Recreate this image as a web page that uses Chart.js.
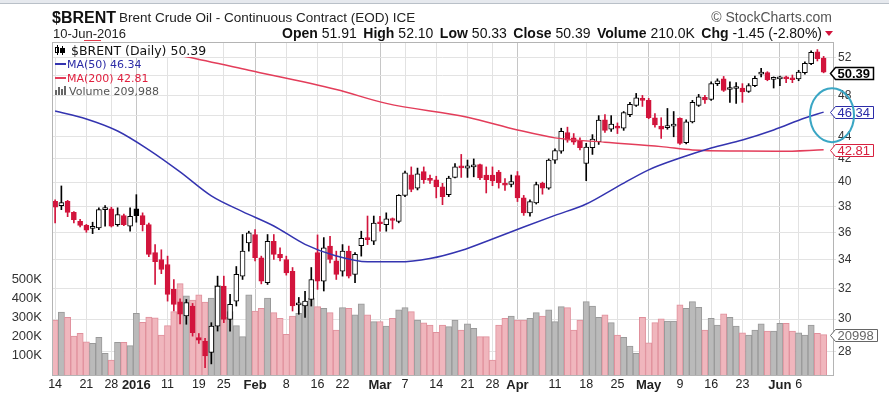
<!DOCTYPE html>
<html>
<head>
<meta charset="utf-8">
<title>$BRENT daily</title>
<script src="https://cdn.jsdelivr.net/npm/chart.js@4/dist/chart.umd.min.js"></script>
<style>
  html, body { margin: 0; padding: 0; background: #fff; }
  #wrap { width: 889px; height: 399px; }
</style>
</head>
<body>
<div id="wrap"><canvas id="brentChart" width="889" height="399"></canvas></div>
<script>
// trading days shown, Dec 14 2015 .. Jun 10 2016
const dates = [
  'Dec 14','Dec 15','Dec 16','Dec 17','Dec 18','Dec 21','Dec 22','Dec 23','Dec 24','Dec 28','Dec 29','Dec 30','Dec 31',
  'Jan 4','Jan 5','Jan 6','Jan 7','Jan 8','Jan 11','Jan 12','Jan 13','Jan 14','Jan 15','Jan 19','Jan 20','Jan 21','Jan 22','Jan 25','Jan 26','Jan 27','Jan 28','Jan 29',
  'Feb 1','Feb 2','Feb 3','Feb 4','Feb 5','Feb 8','Feb 9','Feb 10','Feb 11','Feb 12','Feb 16','Feb 17','Feb 18','Feb 19','Feb 22','Feb 23','Feb 24','Feb 25','Feb 26','Feb 29',
  'Mar 1','Mar 2','Mar 3','Mar 4','Mar 7','Mar 8','Mar 9','Mar 10','Mar 11','Mar 14','Mar 15','Mar 16','Mar 17','Mar 18','Mar 21','Mar 22','Mar 23','Mar 24','Mar 28','Mar 29','Mar 30','Mar 31',
  'Apr 1','Apr 4','Apr 5','Apr 6','Apr 7','Apr 8','Apr 11','Apr 12','Apr 13','Apr 14','Apr 15','Apr 18','Apr 19','Apr 20','Apr 21','Apr 22','Apr 25','Apr 26','Apr 27','Apr 28','Apr 29',
  'May 2','May 3','May 4','May 5','May 6','May 9','May 10','May 11','May 12','May 13','May 16','May 17','May 18','May 19','May 20','May 23','May 24','May 25','May 26','May 27','May 31',
  'Jun 1','Jun 2','Jun 3','Jun 6','Jun 7','Jun 8','Jun 9','Jun 10'
];

const opens = [
  38.41,38.07,38.41,37.54,36.84,36.53,36.30,36.33,37.75,37.81,36.58,37.28,36.46,
  37.81,37.28,36.58,34.50,34.00,33.64,31.93,31.10,30.20,30.83,28.85,28.64,27.96,29.56,32.15,29.98,31.15,32.83,35.21,
  35.83,34.12,32.38,35.33,34.36,34.00,33.17,30.90,30.83,31.26,34.49,32.49,34.97,33.90,33.17,34.60,32.95,35.00,35.50,35.33,
  36.75,36.58,36.97,36.84,38.90,40.62,39.50,40.90,40.25,40.20,39.60,38.96,40.40,41.35,41.20,41.30,41.50,40.60,40.60,40.85,39.90,39.80,
  40.55,38.70,37.50,38.30,39.90,39.50,41.90,42.70,44.40,43.90,43.60,41.60,43.00,43.55,45.60,44.70,45.00,44.80,46.10,47.00,47.60,
  47.50,45.80,45.00,44.85,45.00,45.74,43.45,45.40,47.00,47.80,47.60,49.20,49.70,48.60,48.70,48.75,48.40,49.00,50.20,50.35,49.65,
  49.70,49.80,49.70,49.70,50.35,51.30,52.60,51.91
];
const highs = [
  38.55,39.68,38.50,37.60,37.00,36.60,36.77,37.90,38.07,37.95,37.90,37.40,37.90,
  38.96,37.50,36.70,35.08,34.70,34.24,32.60,31.30,31.26,31.00,29.10,28.80,29.77,32.83,32.83,31.59,33.50,35.83,36.08,
  36.20,34.24,35.83,35.83,34.84,34.24,33.43,31.39,31.80,33.43,35.80,35.60,35.70,34.60,35.08,34.97,34.49,36.08,37.25,37.25,
  37.23,37.50,37.10,38.96,40.95,41.30,41.20,41.30,40.60,40.50,39.90,40.50,41.60,42.40,41.90,42.00,41.55,41.30,41.30,41.00,40.30,40.60,
  40.90,38.90,38.55,40.00,40.00,42.00,42.90,44.80,44.90,44.30,43.90,43.40,44.20,46.00,46.10,46.00,45.30,46.40,47.30,48.20,48.00,
  47.70,46.20,45.80,46.70,46.40,45.80,45.60,47.50,48.10,48.00,49.40,49.70,49.95,49.40,49.30,49.20,49.20,50.00,50.80,50.45,49.90,
  50.00,50.00,50.10,50.60,51.50,52.70,52.85,52.10
];
const lows = [
  36.72,37.75,37.20,36.72,36.40,36.00,35.90,36.20,36.46,36.40,36.46,36.50,36.08,
  36.77,36.10,34.20,32.26,33.00,31.15,30.51,29.70,29.67,28.94,28.50,27.09,27.30,29.25,29.77,29.25,30.83,32.60,34.60,
  33.90,32.30,32.26,34.00,33.90,32.90,30.51,30.30,30.10,30.83,31.93,31.82,33.76,32.60,32.83,32.70,32.38,34.24,35.08,35.08,
  36.08,36.08,36.25,36.72,38.80,39.20,39.35,39.90,39.90,38.70,38.15,38.80,40.35,40.40,40.40,40.45,40.20,39.10,39.70,39.50,39.30,39.60,
  38.40,37.30,37.23,38.20,39.00,39.40,41.60,42.50,43.50,43.30,42.80,40.12,42.40,43.30,44.40,44.50,44.30,44.60,45.90,46.90,46.90,
  45.70,44.90,43.85,44.70,44.00,43.30,43.35,45.30,46.90,47.20,47.50,49.00,48.40,47.30,47.20,47.30,48.30,48.90,49.90,49.50,48.75,
  49.00,49.30,49.30,49.50,50.20,51.20,51.60,50.33
];
const closes = [
  37.95,38.31,37.54,36.97,36.53,36.15,36.33,37.75,37.81,36.46,37.36,36.58,37.23,
  37.28,36.58,34.36,33.84,33.29,31.60,30.94,30.30,31.05,29.15,28.70,27.76,29.56,32.15,29.98,30.94,32.95,34.60,35.95,
  34.12,32.49,35.33,34.36,34.12,33.06,30.83,31.00,31.15,32.60,32.49,34.84,34.00,32.95,34.60,32.83,34.36,35.55,35.45,36.70,
  36.65,37.03,36.90,38.90,40.80,39.40,40.70,40.20,40.15,39.60,38.80,40.35,41.30,41.22,41.40,41.45,40.35,40.20,40.10,39.95,39.75,40.05,
  38.70,37.50,38.40,39.80,39.50,41.90,42.75,44.50,43.70,43.50,43.00,43.05,43.80,45.58,44.60,45.20,44.80,46.30,47.10,47.75,47.50,
  45.80,45.10,44.70,44.90,45.15,43.40,45.40,47.30,47.85,47.54,49.20,49.50,48.50,48.80,48.90,48.35,49.00,49.75,50.30,49.60,49.70,
  49.80,49.70,49.60,50.40,51.35,52.55,51.84,50.39
];
const priorClose = 38.50; // Dec 11 close, only used to colour the first candle

const volumes = [
  286000,327000,300000,203000,217000,173000,165000,196000,113000,78000,170000,170000,153000,
  321000,274000,302000,298000,208000,257000,330000,476000,412000,390000,418000,380000,400000,466000,300000,330000,257000,200000,417000,
  333000,347000,400000,325000,295000,212000,307000,321000,370000,400000,356000,347000,325000,234000,351000,347000,313000,370000,313000,278000,
  278000,255000,295000,339000,351000,330000,286000,272000,260000,222000,260000,252000,286000,234000,266000,243000,200000,200000,78000,260000,295000,307000,
  286000,286000,295000,325000,307000,339000,278000,356000,351000,234000,286000,382000,359000,300000,313000,273000,208000,196000,151000,113000,300000,
  168000,273000,293000,281000,281000,365000,347000,382000,352000,234000,295000,260000,318000,300000,255000,220000,208000,234000,266000,229000,229000,
  269000,269000,229000,220000,208000,260000,217000,209988
];

// moving averages at sample dates
const ma50Dates  = ['Dec 14','Dec 21','Dec 29','Jan 6','Jan 13','Jan 21','Jan 28','Feb 4','Feb 11','Feb 19','Feb 26','Mar 4','Mar 11',
                    'Mar 18','Mar 28','Apr 4','Apr 11','Apr 18','Apr 25','May 2','May 9','May 16','May 23','May 31','Jun 7','Jun 10'];
const ma50Values = [46.45,45.68,44.54,42.81,40.87,38.86,37.60,36.48,35.10,34.25,33.83,33.83,34.07,
                    34.65,35.50,36.40,37.30,38.20,39.62,41.05,42.08,42.98,43.71,44.64,45.77,46.34];
const ma200Dates  = ['Dec 14','Jan 14','Jan 29','Feb 19','Mar 2','Mar 21','Apr 1','Apr 11','Apr 21','May 4','May 11','May 23','Jun 1','Jun 10'];
const ma200Values = [54.90,52.05,50.60,48.60,47.20,45.85,44.64,43.90,43.50,43.10,42.80,42.70,42.68,42.81];

// axis ticks
const xTickDates = ['Dec 14','Dec 21','Dec 28','Jan 4','Jan 11','Jan 19','Jan 25','Feb 1','Feb 8','Feb 16','Feb 22','Mar 1','Mar 7',
                    'Mar 14','Mar 21','Mar 28','Apr 1','Apr 11','Apr 18','Apr 25','May 2','May 9','May 16','May 23','Jun 1','Jun 6'];
const xTickTexts = ['14','21','28','2016','11','19','25','Feb','8','16','22','Mar','7',
                    '14','21','28','Apr','11','18','25','May','9','16','23','Jun','6'];
const boldTicks = ['2016','Feb','Mar','Apr','May','Jun'];
const priceTicks = [28,30,32,34,36,38,40,42,44,46,48,50,52];
const hiddenPriceLabels = [46, 50];
const volumeTicks = [100000,200000,300000,400000,500000];

const FONT = '"Liberation Sans", Arial, sans-serif';
const RED = '#d2143c';
Chart.defaults.font.family = FONT;
Chart.defaults.color = '#333';

// candle colours: black when close is up on the day, red when down; hollow when close >= open
const prevCloses = closes.map((c, i) => (i ? closes[i - 1] : priorClose));
const tone = closes.map((c, i) => (c >= prevCloses[i] ? '#000' : RED));
const hollow = closes.map((c, i) => c >= opens[i]);
const xTickFor = d => {
  const k = xTickDates.indexOf(d);
  return k < 0 ? null : xTickTexts[k];
};

function tag(ctx, x, y, text, color, font, lw) {
  ctx.font = font;
  const w = Math.ceil(ctx.measureText(text).width) + 5;
  const h = 12;
  const top = Math.round(y - h / 2) + 0.5;
  x = Math.round(x) + 0.5;
  ctx.beginPath();
  ctx.moveTo(x, top + h / 2);
  ctx.lineTo(x + 5, top);
  ctx.lineTo(x + 5 + w, top);
  ctx.lineTo(x + 5 + w, top + h);
  ctx.lineTo(x + 5, top + h);
  ctx.closePath();
  ctx.fillStyle = '#fff';
  ctx.fill();
  ctx.strokeStyle = color;
  ctx.lineWidth = lw || 1;
  ctx.stroke();
  ctx.fillStyle = color;
  ctx.textAlign = 'left';
  ctx.textBaseline = 'middle';
  ctx.fillText(text, x + 7, top + h / 2 + 0.5);
}

function txt(ctx, s, x, y, font, color, align) {
  ctx.font = font;
  ctx.fillStyle = color;
  ctx.textAlign = align || 'left';
  ctx.textBaseline = 'alphabetic';
  ctx.fillText(s, x, y);
}

const backdrop = {
  id: 'backdrop',
  beforeDraw(chart) {
    const ctx = chart.ctx;
    ctx.save();
    ctx.fillStyle = '#fff';
    ctx.fillRect(0, 0, chart.width, chart.height);
    ctx.fillStyle = '#e6e9ee';
    ctx.fillRect(0, 0, chart.width, 3);
    ctx.fillStyle = '#b9c0c8';
    ctx.fillRect(0, 3, chart.width, 1);
    ctx.restore();
  }
};

const decorations = {
  id: 'decorations',
  afterDraw(chart) {
    const ctx = chart.ctx;
    const a = chart.chartArea;
    const xs = chart.scales.x;
    const y = chart.scales.y;
    const yv = chart.scales.yv;
    const n = closes.length - 1;
    ctx.save();

    // plot frame
    ctx.strokeStyle = '#b4b4b4';
    ctx.lineWidth = 1;
    ctx.strokeRect(Math.round(a.left) + 0.5, Math.round(a.top) + 0.5, Math.round(a.right - a.left), Math.round(a.bottom - a.top));

    // date labels under the plot
    ctx.textBaseline = 'middle';
    ctx.textAlign = 'center';
    xTickDates.forEach((d, k) => {
      const bold = boldTicks.includes(xTickTexts[k]);
      ctx.font = (bold ? 'bold 13px ' : '12.5px ') + FONT;
      ctx.fillStyle = '#222';
      ctx.fillText(xTickTexts[k], xs.getPixelForValue(dates.indexOf(d)), 385);
    });

    // header
    txt(ctx, '$BRENT', 52, 23, 'bold 16px ' + FONT, '#111');
    txt(ctx, 'Brent Crude Oil - Continuous Contract (EOD) ICE', 119, 22, '13.5px ' + FONT, '#222');
    txt(ctx, '10-Jun-2016', 53, 38, '13px ' + FONT, '#222');
    ctx.fillStyle = '#e03a4a';
    ctx.fillRect(84, 40, 17, 1);
    txt(ctx, '\u00a9 StockCharts.com', 832, 22, '14px ' + FONT, '#555', 'right');

    const chg = closes[n] - closes[n - 1];
    const stats = [
      ['Open', opens[n].toFixed(2)],
      ['High', highs[n].toFixed(2)],
      ['Low', lows[n].toFixed(2)],
      ['Close', closes[n].toFixed(2)],
      ['Volume', (volumes[n] / 1000).toFixed(1) + 'K'],
      ['Chg', chg.toFixed(2) + ' (' + (chg / closes[n - 1] * 100).toFixed(2) + '%)']
    ];
    const bFont = 'bold 14px ' + FONT;
    const rFont = '14px ' + FONT;
    let used = 0;
    stats.forEach(([l, v]) => {
      ctx.font = bFont; used += ctx.measureText(l).width + 4;
      ctx.font = rFont; used += ctx.measureText(v).width;
    });
    const gap = (822 - 282 - used) / (stats.length - 1);
    let sx = 282;
    stats.forEach(([l, v]) => {
      txt(ctx, l, sx, 38, bFont, '#111');
      ctx.font = bFont; sx += ctx.measureText(l).width + 4;
      txt(ctx, v, sx, 38, rFont, '#111');
      ctx.font = rFont; sx += ctx.measureText(v).width + gap;
    });
    ctx.fillStyle = RED;
    ctx.beginPath();
    ctx.moveTo(825, 31); ctx.lineTo(833, 31); ctx.lineTo(829, 36); ctx.closePath();
    ctx.fill();

    // in-chart legend
    ctx.fillStyle = '#fff';
    ctx.fillRect(53, 43, 168, 14);
    ctx.strokeStyle = '#000';
    ctx.fillStyle = '#000';
    ctx.fillRect(57, 45, 1, 10);
    ctx.strokeRect(55.5, 47.5, 3, 5);
    ctx.fillRect(62, 46, 1, 9);
    ctx.fillRect(60, 48, 5, 5);
    txt(ctx, '$BRENT (Daily) ' + closes[n].toFixed(2), 71, 55, '12.5px "DejaVu Sans", sans-serif', '#111');
    ctx.fillStyle = '#3434b0';
    ctx.fillRect(55, 63, 11, 2);
    txt(ctx, 'MA(50) ' + ma50Values[ma50Values.length - 1].toFixed(2), 67, 68, '11px "DejaVu Sans", sans-serif', '#2b2ba6');
    ctx.fillStyle = '#e33d5a';
    ctx.fillRect(55, 77, 11, 2);
    txt(ctx, 'MA(200) ' + ma200Values[ma200Values.length - 1].toFixed(2), 67, 82, '11px "DejaVu Sans", sans-serif', '#e0203f');
    ctx.fillStyle = '#666';
    [[55, 90], [58, 87], [61, 89], [64, 86]].forEach(([bx, by]) => ctx.fillRect(bx, by, 2, 95 - by));
    txt(ctx, 'Volume ' + volumes[n].toLocaleString('en-US'), 69, 95, '11px "DejaVu Sans", sans-serif', '#555');

    // value tags on the right axis
    const tx = a.right - 3;
    tag(ctx, tx, y.getPixelForValue(ma200Values[ma200Values.length - 1]), ma200Values[ma200Values.length - 1].toFixed(2), '#d8203f', '13px ' + FONT, 1);
    tag(ctx, tx, y.getPixelForValue(ma50Values[ma50Values.length - 1]), ma50Values[ma50Values.length - 1].toFixed(2), '#2c2ca8', '13px ' + FONT, 1);
    tag(ctx, tx, y.getPixelForValue(closes[n]) + 1, closes[n].toFixed(2), '#000', 'bold 13px ' + FONT, 1.5);
    tag(ctx, tx, yv.getPixelForValue(volumes[n]), '20998', '#666', '13px ' + FONT, 1);

    // hand-drawn circle round the MA(50) tag
    ctx.strokeStyle = '#3aa6c4';
    ctx.lineWidth = 2;
    ctx.beginPath();
    ctx.ellipse(a.right - 1, y.getPixelForValue(ma50Values[ma50Values.length - 1]) + 3, 22, 27, 0, 0, Math.PI * 2);
    ctx.stroke();

    ctx.restore();
  }
};

new Chart(document.getElementById('brentChart'), {
  type: 'bar',
  data: {
    labels: [...dates, ''],
    datasets: [
      {
        type: 'line',
        label: 'MA(50)',
        data: ma50Dates.map((d, i) => ({ x: d, y: ma50Values[i] })),
        borderColor: '#3434b0',
        borderWidth: 1.5,
        pointRadius: 0,
        cubicInterpolationMode: 'monotone',
        yAxisID: 'y',
        order: 0
      },
      {
        type: 'line',
        label: 'MA(200)',
        data: ma200Dates.map((d, i) => ({ x: d, y: ma200Values[i] })),
        borderColor: '#e33d5a',
        borderWidth: 1.5,
        pointRadius: 0,
        cubicInterpolationMode: 'monotone',
        yAxisID: 'y',
        order: 0
      },
      {
        label: 'body',
        data: opens.map((o, i) => [Math.min(o, closes[i]), Math.max(o, closes[i])]),
        backgroundColor: hollow.map((h, i) => (h ? '#fff' : tone[i])),
        borderColor: tone,
        borderWidth: 1,
        borderSkipped: false,
        barThickness: 5,
        minBarLength: 2,
        grouped: false,
        yAxisID: 'y',
        order: 1
      },
      {
        label: 'wick',
        data: lows.map((l, i) => [l, highs[i]]),
        backgroundColor: tone,
        borderWidth: 0,
        barThickness: 1,
        grouped: false,
        yAxisID: 'y',
        order: 2
      },
      {
        label: 'Volume',
        data: volumes,
        backgroundColor: tone.map(t => (t === RED ? '#f0b6bd' : '#bababa')),
        borderColor: tone.map(t => (t === RED ? '#e0909c' : '#999')),
        borderWidth: 1,
        barPercentage: 1,
        categoryPercentage: 1,
        grouped: false,
        yAxisID: 'yv',
        order: 3
      }
    ]
  },
  options: {
    responsive: false,
    animation: false,
    layout: { padding: { top: 42, left: 0, right: 0, bottom: 0 } },
    plugins: { legend: { display: false }, tooltip: { enabled: false } },
    scales: {
      x: {
        offset: true,
        afterFit: s => { s.height = 24; },
        border: { display: false },
        grid: {
          offset: false,
          drawTicks: false,
          color: c => {
            const t = xTickFor(dates[c.index]);
            if (t === null) return 'rgba(0,0,0,0)';
            return boldTicks.includes(t) ? '#c6c6c6' : '#e2e2e2';
          }
        },
        ticks: { display: false, autoSkip: false, maxRotation: 0 }
      },
      y: {
        type: 'logarithmic',
        position: 'right',
        min: 26.67,
        max: 53.7,
        afterFit: s => { s.width = 56; },
        afterBuildTicks: s => { s.ticks = priceTicks.map(v => ({ value: v })); },
        border: { display: false },
        grid: { color: '#e3e3e3', tickLength: 3 },
        ticks: {
          padding: 2,
          color: '#333',
          font: { size: 12 },
          callback: v => (hiddenPriceLabels.includes(v) ? '' : String(v))
        }
      },
      yv: {
        type: 'linear',
        position: 'left',
        min: 0,
        max: 1734000,
        afterFit: s => { s.width = 52; },
        afterBuildTicks: s => { s.ticks = volumeTicks.map(v => ({ value: v })); },
        border: { display: false },
        grid: { display: false },
        ticks: {
          padding: 2,
          color: '#333',
          font: { size: 13 },
          callback: v => v / 1000 + 'K'
        }
      }
    }
  },
  plugins: [backdrop, decorations]
});
</script>
</body>
</html>
